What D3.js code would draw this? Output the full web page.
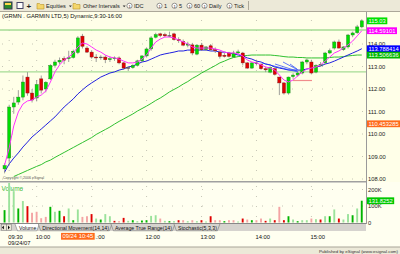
<!DOCTYPE html>
<html><head><meta charset="utf-8">
<script src="https://cdn.jsdelivr.net/npm/d3@7"></script>
<style>
body{margin:0;background:#fffff0;}
svg{display:block;font-family:"Liberation Sans",Arial,sans-serif;}
</style></head><body>
<svg id="chart" width="400" height="254"></svg>
<script>
// bar 0 = 09:25, one bar every 5 minutes, last bar 15:55
const opens = [108.45,108.93,111.2,111.42,111.64,112.53,111.82,111.6,112.45,112.0,
  112.45,113.05,113.2,113.35,113.35,113.4,113.62,114.35,113.82,113.64,
  113.42,113.4,113.42,113.3,113.35,113.38,113.16,112.93,112.95,113.05,
  113.25,113.47,113.78,114.3,114.45,114.42,114.38,114.45,114.2,114.1,
  113.95,113.96,113.55,113.95,113.75,113.92,113.75,113.64,113.5,113.6,
  113.42,113.6,113.6,113.16,112.93,113.16,113.1,112.9,112.75,112.9,
  112.53,112.27,111.82,112.55,112.62,112.71,113.2,113.2,112.75,113.05,
  113.16,113.6,113.82,114.09,113.75,113.87,114.4,114.5,114.76];
const highs = [108.7,111.3,111.65,111.95,112.6,112.75,112.0,112.4,112.6,112.35,
  113.1,113.3,113.4,113.45,113.7,113.75,114.35,114.45,113.9,113.7,
  113.55,113.5,113.5,113.45,113.45,113.45,113.2,113.0,113.1,113.3,
  113.5,113.85,114.35,114.5,114.5,114.5,114.55,114.5,114.3,114.2,
  114.1,114.05,114.0,114.05,113.9,114.0,113.85,113.7,113.6,113.65,
  113.7,113.75,113.65,113.2,113.2,113.3,113.15,113.0,113.0,112.95,
  112.55,112.3,112.55,112.7,112.8,113.25,113.35,113.3,113.1,113.2,
  113.65,113.8,114.15,114.2,113.9,114.45,114.55,114.85,115.1];
const lows = [108.25,108.6,110.9,111.3,111.5,111.7,111.4,111.45,111.8,111.85,
  112.4,112.95,113.1,113.1,113.2,113.35,113.55,113.8,113.6,113.35,
  113.2,113.3,113.15,113.2,113.25,113.1,112.85,112.8,112.9,113.0,
  113.2,113.4,113.7,114.25,114.3,114.3,114.3,114.15,114.05,113.9,
  113.85,113.5,113.5,113.7,113.7,113.7,113.6,113.35,113.4,113.4,
  113.4,113.55,113.05,112.9,112.9,113.05,112.85,112.75,112.7,112.6,
  111.73,111.75,111.75,112.45,112.55,112.65,113.1,112.65,112.7,113.0,
  113.1,113.55,113.75,113.8,113.7,113.8,114.3,114.45,114.7];
const closes = [108.6,111.2,111.38,111.64,112.31,111.82,111.51,112.2,111.95,112.3,
  113.05,113.2,113.28,113.28,113.4,113.68,114.27,113.9,113.64,113.42,
  113.38,113.42,113.3,113.35,113.38,113.16,112.93,112.95,113.05,113.25,
  113.47,113.78,114.27,114.42,114.38,114.36,114.38,114.2,114.15,113.95,
  114.0,113.6,113.95,113.75,113.87,113.75,113.7,113.45,113.45,113.45,
  113.6,113.65,113.16,112.93,113.16,113.15,112.9,112.85,112.95,112.65,
  112.27,111.82,112.53,112.62,112.71,113.2,113.29,112.71,113.05,113.1,
  113.6,113.7,114.09,113.82,113.87,114.4,114.49,114.76,115.03];

// moving averages as drawn
const maFast = [108.62,109.38,110.36,110.98,111.33,111.47,111.51,111.64,111.73,111.91,
  112.31,112.76,113.07,113.29,113.42,113.6,113.87,114.04,114.0,113.87,
  113.73,113.64,113.51,113.42,113.38,113.33,113.24,113.16,113.16,113.2,
  113.33,113.51,113.82,114.09,114.22,114.31,114.31,114.27,114.18,114.09,
  114.0,113.87,113.82,113.82,113.82,113.82,113.78,113.73,113.64,113.6,
  113.6,113.56,113.47,113.29,113.2,113.16,113.07,112.98,112.93,112.84,
  112.62,112.4,112.31,112.4,112.58,112.76,112.89,112.93,112.98,113.07,
  113.24,113.42,113.6,113.69,113.82,113.96,114.13,114.36,114.59];
const maMid = [108.31,108.67,108.93,109.16,109.42,109.64,109.87,110.04,110.22,110.4,
  110.58,110.76,110.98,111.2,111.38,111.56,111.78,111.96,112.13,112.27,
  112.4,112.53,112.62,112.71,112.76,112.84,112.89,112.98,113.02,113.11,
  113.2,113.24,113.33,113.42,113.51,113.56,113.6,113.64,113.69,113.69,
  113.73,113.73,113.73,113.73,113.73,113.69,113.69,113.64,113.64,113.6,
  113.56,113.51,113.47,113.38,113.33,113.24,113.2,113.11,113.07,112.98,
  112.93,112.89,112.84,112.84,112.84,112.84,112.89,112.93,112.98,113.02,
  113.11,113.16,113.24,113.33,113.42,113.51,113.6,113.69,113.79];
const maSlow = [null,null,108.11,108.2,108.29,108.38,108.47,108.56,108.64,108.76,
  108.84,108.96,109.07,109.18,109.29,109.4,109.51,109.62,109.73,109.84,
  109.98,110.09,110.2,110.31,110.44,110.56,110.67,110.78,110.89,111.02,
  111.13,111.24,111.36,111.49,111.6,111.73,111.87,111.98,112.09,112.22,
  112.33,112.47,112.58,112.71,112.82,112.93,113.04,113.16,113.24,113.33,
  113.4,113.44,113.47,113.49,113.51,113.51,113.51,113.51,113.51,113.49,
  113.47,113.44,113.42,113.42,113.4,113.4,113.38,113.38,113.38,113.38,
  113.38,113.4,113.42,113.42,113.44,113.47,113.49,113.51,113.51];

// volume in thousands, and its colour class (G up, g up light, R down, r down light)
const volumes = [75,240,190,85,130,99,59,65,26,34,
  95,65,71,38,85,14,79,34,38,51,
  24,18,51,38,10,8,28,10,14,8,
  12,14,40,44,24,10,8,8,14,14,
  8,14,8,14,6,38,14,14,8,14,
  14,6,24,18,14,14,24,10,24,14,
  95,14,38,18,8,14,14,24,20,18,
  38,38,79,24,18,51,44,85,132];
const volKinds = ["G","g","g","G","g","R","r","r","r","r",
  "G","g","G","R","g","G","g","r","r","R",
  "g","G","g","g","R","r","R","g","G","g",
  "G","G","g","g","r","g","G","g","R","r",
  "g","r","g","R","g","R","r","r","G","r",
  "r","g","R","r","G","r","r","R","g","R",
  "r","R","G","g","G","g","g","r","g","R",
  "g","G","g","R","g","g","G","g","G"];

const priceTicks = [108,109,110,111,112,113,114];
const levelLines = [114.62, 112.76];
const markerValues = [115.03, 114.59101, 113.788414, 113.506636, 110.453285];
const markerLabels = ["115.03","114.59101","113.788414","113.506636","110.453285"];
const volTicks = [0,100,200];
const volTickLabels = ["0","100K","200K"];
const volMarkerValue = 131.8252;
const volMarkerLabel = "131.8252";
const timeLabels = ["09:30","10:00","11:00","12:00","13:00","14:00","15:00"];
const timeLabelBars = [1,7,19,31,43,55,67];
const cursorBar = 16;
const cursorLabel = "09/24 10:45";
const tabs = ["Volume","Directional Movement(14,14)","Average True Range(14)","Stochastic(5,3,3)"];

const svg = d3.select("#chart");
const plotRight = 366;

const x = d3.scaleLinear().domain([0, 78]).range([4.6, 361.8]);
const y = d3.scaleLinear().domain([108, 115]).range([179, 21.5]);
const yv = d3.scaleLinear().domain([0, 200]).range([222.5, 189.5]);

const markerColors = ["#00e000","#ff00ff","#0000ff","#00b800","#ff6a1a"];
const volColors = {G:"#00b400", g:"#9be29b", R:"#e00000", r:"#f4a4a4"};

// label with a coloured box behind it
function boxLabel(parent, xPos, yPos, txt, fill, anchor) {
  var g = parent.append("g");
  var r = g.append("rect").attr("fill", fill);
  var t = g.append("text").attr("x", xPos).attr("y", yPos + 2.1)
    .attr("text-anchor", anchor || "start")
    .attr("font-size", 5.8).attr("fill", "#fff").text(txt);
  var w = t.node().getComputedTextLength();
  var left = anchor === "middle" ? xPos - w / 2 : xPos;
  r.attr("x", left - 1.5).attr("y", yPos - 3.4).attr("width", w + 3).attr("height", 6.8);
  return g;
}

// backgrounds
svg.append("rect").attr("width",400).attr("height",254).attr("fill","#fffff0");
svg.append("rect").attr("x",0).attr("y",12).attr("width",400).attr("height",170).attr("fill","#ffffe8");

// toolbar
svg.append("rect").attr("width",400).attr("height",11).attr("fill","#ece9d8");
svg.append("line").attr("x1",0).attr("x2",400).attr("y1",11.5).attr("y2",11.5).attr("stroke","#aca899");
var tb = svg.append("g").attr("font-size",5.6).attr("fill","#222");
tb.append("rect").attr("x",4).attr("y",2).attr("width",8).attr("height",7).attr("fill","#2a8a2a").attr("stroke","#335");
tb.append("rect").attr("x",5).attr("y",3).attr("width",6).attr("height",2).attr("fill","#ffd84a");
tb.append("rect").attr("x",17).attr("y",2.5).attr("width",6).attr("height",6).attr("fill","#fff").attr("stroke","#446");
tb.append("text").attr("x",26.5).attr("y",8.5).attr("font-size",8).attr("font-weight","bold").text("+");
[[37,"Equities",46],[73,"Other Intervals",83]].forEach(function (d) {
  tb.append("path").attr("d","M"+d[0]+",3.5h2.5l1,1h3.5v4.5h-7z").attr("fill","#f4d66a").attr("stroke","#b8962a").attr("stroke-width",0.6);
  var t = tb.append("text").attr("x",d[2]).attr("y",8).text(d[1]);
  var e = d[2] + t.node().getComputedTextLength() + 3;
  tb.append("path").attr("d","M"+e+",5.5h3l-1.5,1.8z").attr("fill","#333");
});
[[127,"IDC"],[157,"1"],[172,"5"],[187,"60"],[202,"Daily"],[227,"Tick"]].forEach(function (d) {
  tb.append("circle").attr("cx",d[0]+2.5).attr("cy",5.8).attr("r",2.6).attr("fill","#fff").attr("stroke","#555").attr("stroke-width",0.6);
  tb.append("text").attr("x",d[0]+1.6).attr("y",7.5).attr("font-size",4).text("1");
  tb.append("text").attr("x",d[0]+7).attr("y",8).text(d[1]);
});
tb.append("line").attr("x1",248.5).attr("x2",248.5).attr("y1",1).attr("y2",10).attr("stroke","#aca899");

// title
svg.append("text").attr("x",2).attr("y",17.5).attr("font-size",5.8).attr("fill","#111")
  .text("(GRMN . GARMIN LTD,5) Dynamic,9:30-16:00");

// dotted grid
var grid = svg.append("g").attr("stroke","#b8b8a8").attr("stroke-width",0.8).attr("stroke-dasharray","1,9");
priceTicks.forEach(function (p) {
  grid.append("line").attr("x1",2).attr("x2",plotRight).attr("y1",y(p)).attr("y2",y(p));
});
timeLabelBars.forEach(function (b) {
  grid.append("line").attr("x1",x(b)).attr("x2",x(b)).attr("y1",20).attr("y2",180);
  grid.append("line").attr("x1",x(b)).attr("x2",x(b)).attr("y1",186).attr("y2",222);
});
[100,200].forEach(function (v) {
  grid.append("line").attr("x1",2).attr("x2",plotRight).attr("y1",yv(v)).attr("y2",yv(v));
});

// horizontal level lines
levelLines.forEach(function (p) {
  svg.append("line").attr("x1",0).attr("x2",plotRight).attr("y1",y(p)).attr("y2",y(p))
    .attr("stroke","#a6dc96").attr("stroke-width",1.4);
});

// moving averages
function drawLine(vals, color) {
  var line = d3.line().defined(function (d) { return d != null; })
    .x(function (d, i) { return x(i); }).y(function (d) { return y(d); });
  svg.append("path").datum(vals).attr("d", line).attr("fill","none")
    .attr("stroke", color).attr("stroke-width",1);
}
drawLine(maSlow, "#30c030");
drawLine(maMid, "#2020e0");

// candles
var idx = d3.range(opens.length);
var candles = svg.append("g");
candles.selectAll(".wick").data(idx).enter().append("line")
  .attr("x1", function (i) { return x(i); }).attr("x2", function (i) { return x(i); })
  .attr("y1", function (i) { return y(highs[i]); }).attr("y2", function (i) { return y(lows[i]); })
  .attr("stroke","#888").attr("stroke-width",0.8);
candles.selectAll(".body").data(idx).enter().append("rect")
  .attr("x", function (i) { return x(i) - 1.6; })
  .attr("width", 3.2)
  .attr("y", function (i) { return y(Math.max(opens[i], closes[i])); })
  .attr("height", function (i) { return Math.max(0.8, Math.abs(y(opens[i]) - y(closes[i]))); })
  .attr("fill", function (i) {
    if (Math.abs(closes[i] - opens[i]) < 0.02) return "#555";
    return closes[i] > opens[i] ? "#00dd00" : "#e00000";
  })
  .attr("stroke", function (i) {
    if (Math.abs(closes[i] - opens[i]) < 0.02) return "#555";
    return closes[i] > opens[i] ? "#2a7a2a" : "#7a1a1a";
  })
  .attr("stroke-width",0.4);

drawLine(maFast, "#ff30ff");

// hand drawn annotations
var ann = svg.append("g").attr("fill","none");
ann.append("path").attr("d","M262,63 L298,72 M275,64 L297,71 M283,62 L298,70 M290,64 L297,69")
  .attr("stroke","#2040ff").attr("stroke-width",0.7);
ann.append("line").attr("x1",293).attr("x2",312).attr("y1",80.5).attr("y2",80.5)
  .attr("stroke","#f08c8c").attr("stroke-width",1.2);

svg.append("text").attr("x",3).attr("y",179).attr("font-size",3.6).attr("fill","#555")
  .text("Copyright \u00a9 2006 eSignal");

// panel separator and right axis line
svg.append("rect").attr("x",0).attr("y",181).attr("width",plotRight).attr("height",1.5).attr("fill","#a0a0a0");
svg.append("line").attr("x1",plotRight+0.5).attr("x2",plotRight+0.5).attr("y1",12).attr("y2",224)
  .attr("stroke","#9a9a9a").attr("stroke-width",1);

// price axis
var yAxis = d3.axisRight(y).tickValues(priceTicks).tickFormat(d3.format(".2f")).tickSize(0).tickPadding(0);
var ga = svg.append("g").attr("transform","translate(" + (plotRight + 2) + ",0)").call(yAxis);
ga.select(".domain").remove();
ga.selectAll("text").attr("font-family","Liberation Sans, Arial").attr("font-size",5.8).attr("fill","#222");

// marker boxes on price axis
markerValues.forEach(function (v, k) {
  boxLabel(svg, plotRight + 2.5, y(v), markerLabels[k], markerColors[k]);
});

// volume
svg.append("text").attr("x",1.5).attr("y",191).attr("font-size",6.5).attr("fill","#48c048").text("Volume");
svg.selectAll(".vol").data(idx).enter().append("rect")
  .attr("x", function (i) { return x(i) - 1; })
  .attr("width", 1.9)
  .attr("y", function (i) { return yv(volumes[i]); })
  .attr("height", function (i) { return yv(0) - yv(volumes[i]); })
  .attr("fill", function (i) { return volColors[volKinds[i]]; });

var vAxis = d3.axisRight(yv).tickValues(volTicks).tickFormat(function (d, i) { return volTickLabels[i]; }).tickSize(0).tickPadding(0);
var gv = svg.append("g").attr("transform","translate(" + (plotRight + 2) + ",0)").call(vAxis);
gv.select(".domain").remove();
gv.selectAll("text").attr("font-family","Liberation Sans, Arial").attr("font-size",5.8).attr("fill","#222");
boxLabel(svg, plotRight + 2.5, yv(volMarkerValue), volMarkerLabel, "#00c800");

// tab bar
svg.append("rect").attr("x",0).attr("y",223.5).attr("width",plotRight).attr("height",7.5).attr("fill","#d6d3ce");
svg.append("line").attr("x1",0).attr("x2",plotRight).attr("y1",223.5).attr("y2",223.5).attr("stroke","#888");
[[1.5,"M3.8,225.5v4l-1.8,-2z"],[6.5,"M8,225.5v4l1.8,-2z"]].forEach(function (d) {
  svg.append("rect").attr("x",d[0]).attr("y",224.2).attr("width",4.8).attr("height",6).attr("fill","#ece9d8").attr("stroke","#777").attr("stroke-width",0.5);
  svg.append("path").attr("d",d[1]).attr("fill","#000");
});
var tabX = 15;
var tabG = svg.append("g").attr("font-size",5.2).attr("fill","#111");
tabs.forEach(function (name, k) {
  var p = tabG.append("path");
  var t = tabG.append("text").attr("x",tabX + 4).attr("y",229.6).text(name);
  var w = t.node().getComputedTextLength() + 7;
  p.attr("d","M" + tabX + ",224 L" + (tabX + 2.5) + ",230.8 L" + (tabX + w - 2.5) + ",230.8 L" + (tabX + w) + ",224")
    .attr("fill", k === 0 ? "#ffffff" : "#d6d3ce").attr("stroke","#666").attr("stroke-width",0.5);
  tabX += w - 1;
});

// time axis
var tg = svg.append("g").attr("font-size",5.8).attr("fill","#111");
var cursorHalf = 18;
svg.append("clipPath").attr("id","cutCursor").append("rect")
  .attr("x", x(cursorBar) + cursorHalf).attr("y",230).attr("width",400).attr("height",12);
timeLabels.forEach(function (lab, k) {
  var t = tg.append("text").attr("x", x(timeLabelBars[k]) - 1).attr("y",238.5).text(lab);
  var bx = x(timeLabelBars[k]) - 1;
  if (bx < x(cursorBar) + cursorHalf && bx > x(cursorBar) - cursorHalf) t.attr("clip-path","url(#cutCursor)");
});
tg.append("text").attr("x",8).attr("y",245).text("09/24/07");
boxLabel(svg, x(cursorBar), 236.3, cursorLabel, "#ff6a1a", "middle");

// bottom status strip
svg.append("rect").attr("x",0).attr("y",247).attr("width",400).attr("height",7).attr("fill","#ece9d8");
svg.append("line").attr("x1",0).attr("x2",400).attr("y1",247).attr("y2",247).attr("stroke","#a8a598");
svg.append("text").attr("x",398).attr("y",252.5).attr("text-anchor","end").attr("font-size",4.4).attr("fill","#333")
  .text("Published by eSignal (www.esignal.com)");
</script>
</body></html>
